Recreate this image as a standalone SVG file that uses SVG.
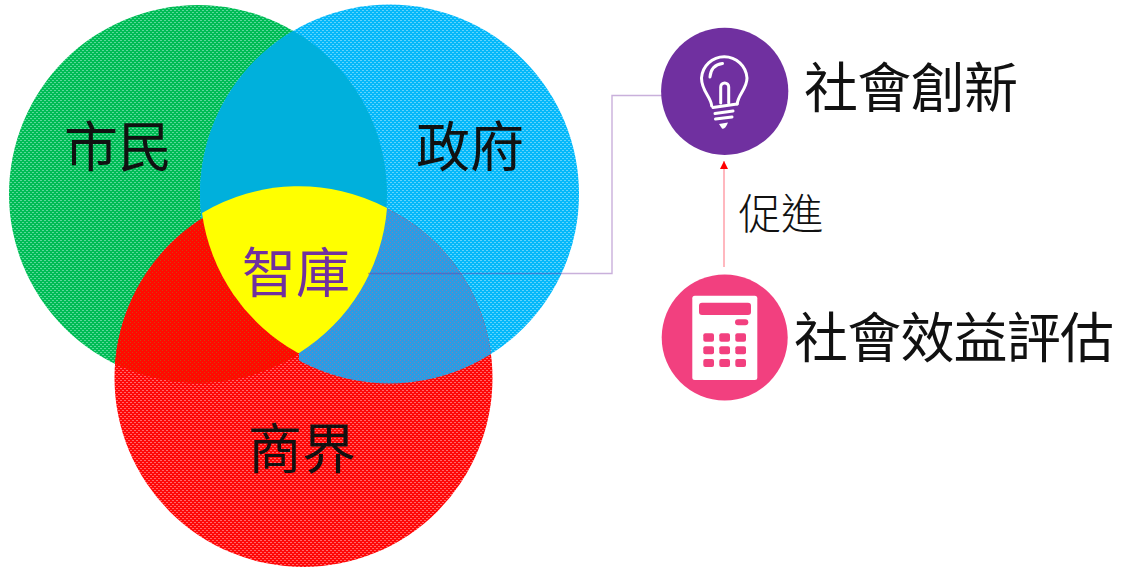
<svg xmlns="http://www.w3.org/2000/svg" width="1128" height="569" viewBox="0 0 1128 569">
<style>
text{font-family:"Noto Sans CJK TC","Noto Sans CJK JP",serif;font-weight:400;fill:#111;text-anchor:middle}
.big{font-size:54px}
.conn{fill:none;stroke:#7030A0;stroke-opacity:.38;stroke-width:1.4}
.ico{fill:none;stroke:#fff;stroke-width:3;stroke-linecap:round;stroke-linejoin:round}
.w{fill:#fff}.p{fill:#F2407F}
</style>
<defs>
<pattern id="pg" width="4" height="4" patternUnits="userSpaceOnUse" shape-rendering="crispEdges"><rect width="4" height="4" fill="#00BC55"/><rect width="2" height="1" fill="#5AD89A"/><rect x="2" y="2" width="2" height="1" fill="#5AD89A"/></pattern>
<pattern id="pb" width="4" height="4" patternUnits="userSpaceOnUse" shape-rendering="crispEdges"><rect width="4" height="4" fill="#04B8FA"/><rect width="2" height="1" fill="#60D4FC"/><rect x="2" y="2" width="2" height="1" fill="#60D4FC"/></pattern>
<pattern id="pr" width="4" height="4" patternUnits="userSpaceOnUse" shape-rendering="crispEdges"><rect width="4" height="4" fill="#FF0808"/><rect width="2" height="1" fill="#FF6868"/><rect x="2" y="2" width="2" height="1" fill="#FF6868"/></pattern>
<pattern id="prb" width="4" height="4" patternUnits="userSpaceOnUse" shape-rendering="crispEdges"><rect width="4" height="4" fill="#2A9CE4"/><rect width="1" height="1" fill="#7A80B8"/><rect x="2" y="2" width="1" height="1" fill="#7A80B8"/></pattern>
<pattern id="prg" width="4" height="4" patternUnits="userSpaceOnUse" shape-rendering="crispEdges"><rect width="4" height="4" fill="#FF0A00"/><rect width="1" height="1" fill="#D04010"/><rect x="2" y="2" width="1" height="1" fill="#D04010"/></pattern>
<clipPath id="cg"><circle cx="198" cy="194" r="189"/></clipPath>
<clipPath id="cb"><circle cx="389.5" cy="194" r="189.5"/></clipPath>
<clipPath id="cright"><rect x="299" y="180" width="300" height="220"/></clipPath>
<marker id="ah" markerUnits="userSpaceOnUse" markerWidth="9" markerHeight="8" refX="8" refY="4" orient="auto"><path d="M0,0L8,4L0,8Z" fill="#F00"/></marker>
</defs>
<g id="node-citizen"><circle cx="198" cy="194" r="189" fill="url(#pg)"/></g>
<g id="node-government"><circle cx="389.5" cy="194" r="189.5" fill="url(#pb)"/>
<g clip-path="url(#cg)"><circle cx="389.5" cy="194" r="189.5" fill="#00B0DC"/></g></g>
<g id="node-business"><circle cx="303.5" cy="378" r="189" fill="url(#pr)"/>
<g clip-path="url(#cg)"><circle cx="303.5" cy="378" r="189" fill="url(#prg)"/></g>
<g clip-path="url(#cright)"><g clip-path="url(#cb)"><circle cx="303.5" cy="378" r="189" fill="url(#prb)"/></g></g></g>
<g id="node-thinktank"><path d="M202,213A189,189 0 0 1 387,208A189,189 0 0 1 299,353L298,353A189,189 0 0 1 202,213Z" fill="#FF0"/></g>
<g id="connectors">
<path class="conn" d="M368,273.500H612V95.500H662"/>
<path d="M724,267V161" fill="none" stroke="#FF9AA4" stroke-width="1.4" marker-end="url(#ah)"/>
</g>
<g id="node-innovation">
<circle cx="724.700" cy="91.300" r="63.600" fill="#7030A0"/>
<path class="ico" d="M711.700,106C711,97 701.500,91 701.500,78A22.800,22.800 0 0 1 747,78C747,89 737.500,95 737.300,104"/>
<path class="ico" d="M710,77Q711,65 722.500,63.500"/>
<path class="ico" d="M720.700,103V87A4,4 0 0 1 728.700,87V103"/>
<path class="ico" d="M713,107.500L737,104M715,113.500L733,111M715.500,119L732,117"/>
<path d="M719,124L728,122.500Q725,130 722,128.500Z" fill="#fff"/>
</g>
<g id="node-assessment">
<circle cx="724.700" cy="337.500" r="63" class="p"/>
<rect x="692.300" y="295.700" width="65" height="84.300" rx="2.500" class="w"/>
<g class="p">
<rect x="699" y="302.700" width="52" height="12.300" rx="3"/>
<rect x="735" y="319.300" width="13.300" height="6" rx="3"/>
<rect x="703.300" y="333.300" width="10.700" height="8.400" rx="2"/><rect x="719.300" y="333.300" width="10.700" height="8.400" rx="2"/><rect x="735.300" y="333.300" width="10.700" height="8.400" rx="2"/>
<rect x="703.300" y="346.300" width="10.700" height="8" rx="2"/><rect x="719.300" y="346.300" width="10.700" height="8" rx="2"/><rect x="735.300" y="346.300" width="10.700" height="8" rx="2"/>
<rect x="703.300" y="359" width="10.700" height="8" rx="2"/><rect x="719.300" y="359" width="10.700" height="8" rx="2"/><rect x="735.300" y="359" width="10.700" height="8" rx="2"/>
</g></g>
<g id="labels">
<text class="big" x="118" y="167">市民</text>
<text class="big" x="470" y="167">政府</text>
<text class="big" x="296" y="293" style="fill:#7030A0">智庫</text>
<text class="big" x="302" y="469">商界</text>
<text class="big" x="911" y="108" textLength="214">社會創新</text>
<text class="big" x="954" y="358" textLength="320">社會效益評估</text>
<text x="781" y="229" font-size="42.500" style="font-weight:300">促進</text>
</g>
</svg>
